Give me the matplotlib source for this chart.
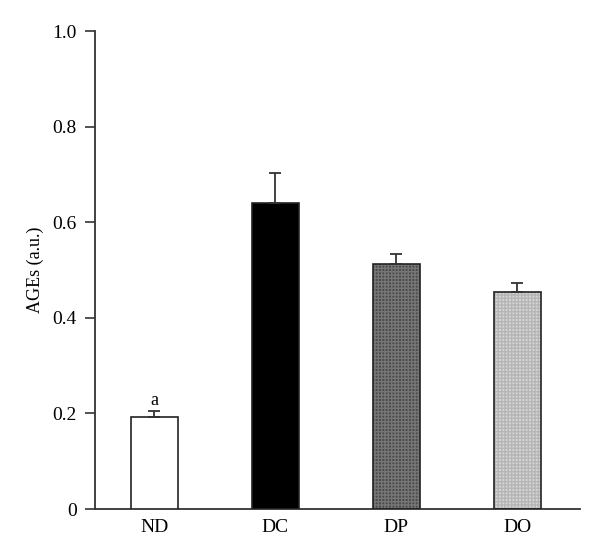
import matplotlib
matplotlib.use("Agg")
import matplotlib.pyplot as plt
from matplotlib.ticker import FixedLocator, FixedFormatter

categories = ["ND", "DC", "DP", "DO"]
values = [0.192, 0.640, 0.513, 0.454]
errors = [0.012, 0.063, 0.020, 0.019]
yticks = [0, 0.2, 0.4, 0.6, 0.8, 1.0]
ytick_labels = ["0", "0.2", "0.4", "0.6", "0.8", "1.0"]
annotations = ["a", "", "", ""]

plt.rcParams['font.family'] = ['Liberation Serif', 'DejaVu Serif']

fig = plt.figure(figsize=(6.0, 5.58), dpi=100)
ax = fig.add_axes([0.158, 0.0878, 0.809, 0.8566])

x = list(range(len(categories)))
faces = ["white", "black", "#4a4a4a", "#d6d6d6"]
hatches = [None, None, "+++++", "+++++"]
hatch_cols = [None, None, "#767676", "#b5b5b5"]
w = 0.39

for xi, v, fc, h, hc in zip(x, values, faces, hatches, hatch_cols):
    if h:
        ax.bar(xi, v, width=w, color=fc, edgecolor=hc, hatch=h, linewidth=0, zorder=2)
        ax.bar(xi, v, width=w, facecolor="none", edgecolor="#222222", linewidth=1.2, zorder=3)
    else:
        ax.bar(xi, v, width=w, color=fc, edgecolor="#222222", linewidth=1.2, zorder=3)

ax.errorbar(x, values, yerr=[[0]*len(values), errors], fmt="none", ecolor="#333333",
            elinewidth=1.3, capsize=4.5, capthick=1.3, zorder=4)

for xi, v, e, t in zip(x, values, errors, annotations):
    if t:
        ax.text(xi, v + e + 0.006, t, ha="center", va="bottom", fontsize=13)

ax.set_xlim(-0.49, 3.52)
ax.set_ylim(0, 1.0)
ax.yaxis.set_major_locator(FixedLocator(yticks))
ax.yaxis.set_major_formatter(FixedFormatter(ytick_labels))
ax.set_xticks(x)
ax.set_xticklabels(categories, fontsize=14)
ax.tick_params(axis="x", length=0, pad=7)
ax.tick_params(axis="y", direction="out", length=7, width=1.2, labelsize=14, pad=6, color="#333333")
ax.set_ylabel("AGEs (a.u.)", fontsize=13, labelpad=6)

for s in ["top", "right"]:
    ax.spines[s].set_visible(False)
for s in ["left", "bottom"]:
    ax.spines[s].set_linewidth(1.3)
    ax.spines[s].set_color("#333333")

fig.savefig("out.png", dpi=100)
